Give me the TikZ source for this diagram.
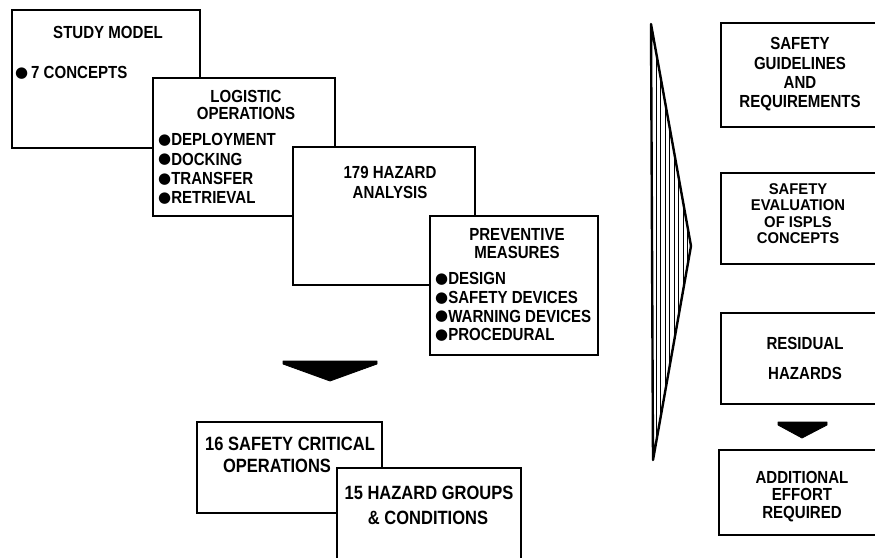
\documentclass[tikz,border=0pt]{standalone}
\usepackage{fontspec}
\setmainfont{Liberation Sans}[FakeStretch=0.86]
\newfontfamily\wideb{Liberation Sans}[FakeStretch=0.95]
\newfontfamily\symfont{DejaVu Sans}
\newcommand{\bul}{\raisebox{1.2pt}{\symfont\fontsize{15}{15}\selectfont ●}}
\newcommand{\lblfont}[1]{\bfseries\fontsize{17.5}{#1}\selectfont}
\begin{document}
\begin{tikzpicture}[x=1pt,y=-1pt,
  box/.style={draw=black, fill=white, line width=2.8pt, line join=miter},
  lbl/.style={inner sep=0pt, font=\lblfont{18}, anchor=base},
  lst/.style={lbl, anchor=base west},
  head/.style={inner sep=0pt, align=center, anchor=center, font=\lblfont{#1}},
  blist/.style={inner sep=0pt, align=left, anchor=west, font=\lblfont{#1}},
  big/.style={lbl, font=\bfseries\fontsize{19.2}{20}\selectfont},
  solidarrow/.style={fill=black, draw=black, line width=0.8pt, line join=round},
  hatch/.style={line width=0.9pt}]
\useasboundingbox (0,0) rectangle (875,557);
\clip (0,0) rectangle (875,557);

% Box 1
\draw[box] (12,10) rectangle (200,148);
\node[lbl] (sm) at (108,38.5) {STUDY MODEL};
\node[lst] (sm1) at (15,78.5) {\bul\,7 CONCEPTS};

% Box 2
\draw[box] (153,78) rectangle (335,216);
\node[head=17.5] (lo) at (246,105) {LOGISTIC\\OPERATIONS};
\node[blist=19.2] (lol) at (158,169) {\bul DEPLOYMENT\\\bul DOCKING\\\bul TRANSFER\\\bul RETRIEVAL};

% Box 3
\draw[box] (293,147) rectangle (475,285);
\node[head=20.5] (ha) at (390,182.5) {179 HAZARD\\ANALYSIS};

% Box 4
\draw[box] (430,216) rectangle (598,355);
\node[head=17.5] (pm) at (517,243.5) {PREVENTIVE\\MEASURES};
\node[blist=18.8] (pml) at (435,307) {\bul DESIGN\\\bul SAFETY DEVICES\\\bul WARNING DEVICES\\\bul PROCEDURAL};

% Down arrow (left)
\draw[solidarrow] (283,361) -- (377,361) -- (377,364) -- (330,381) -- (283,364) -- cycle;

% Box 5
\draw[box] (197,422) rectangle (382,513);
\node[big] (sc1) at (290,450) {16 SAFETY CRITICAL};
\node[big] (sc2) at (277,472) {OPERATIONS};

% Box 6
\draw[box] (337,468) rectangle (521,600);
\node[big] (hg1) at (429,499) {15 HAZARD GROUPS};
\node[big] (hg2) at (428,524) {\&{} CONDITIONS};

% Big right arrow with hatching
\begin{scope}
  \clip (651,24) -- (691,246) -- (653,460) -- cycle;
  \foreach \xx in {656,660.5,665,669.5,674,678.5,683,687.5} {
    \draw[hatch] (\xx,20) -- (\xx,465);
  }
\end{scope}
\draw[line width=2.4pt, line join=round] (651,24) -- (691,246) -- (653,460) -- cycle;

% Right boxes
\draw[box] (721,23) rectangle (900,127);
\node[head=19.3] (sg) at (800,74.5) {SAFETY\\GUIDELINES\\AND\\REQUIREMENTS};

\draw[box] (721,173) rectangle (900,264);
\node[inner sep=0pt, align=center, anchor=center, font=\wideb\bfseries\fontsize{15.6}{16.3}\selectfont] (se) at (798,213.5) {SAFETY\\EVALUATION\\OF ISPLS\\CONCEPTS};

\draw[box] (721,313) rectangle (900,404);
\node[lbl] (rh1) at (805,349.5) {RESIDUAL};
\node[lbl] (rh2) at (805,379.5) {HAZARDS};

\draw[solidarrow] (778,422) -- (827,422) -- (827,425) -- (802,438) -- (778,425) -- cycle;

\draw[box] (719,450) rectangle (900,535);
\node[head=17.7] (ae) at (802,496.5) {ADDITIONAL\\EFFORT\\REQUIRED};
\end{tikzpicture}
\end{document}
